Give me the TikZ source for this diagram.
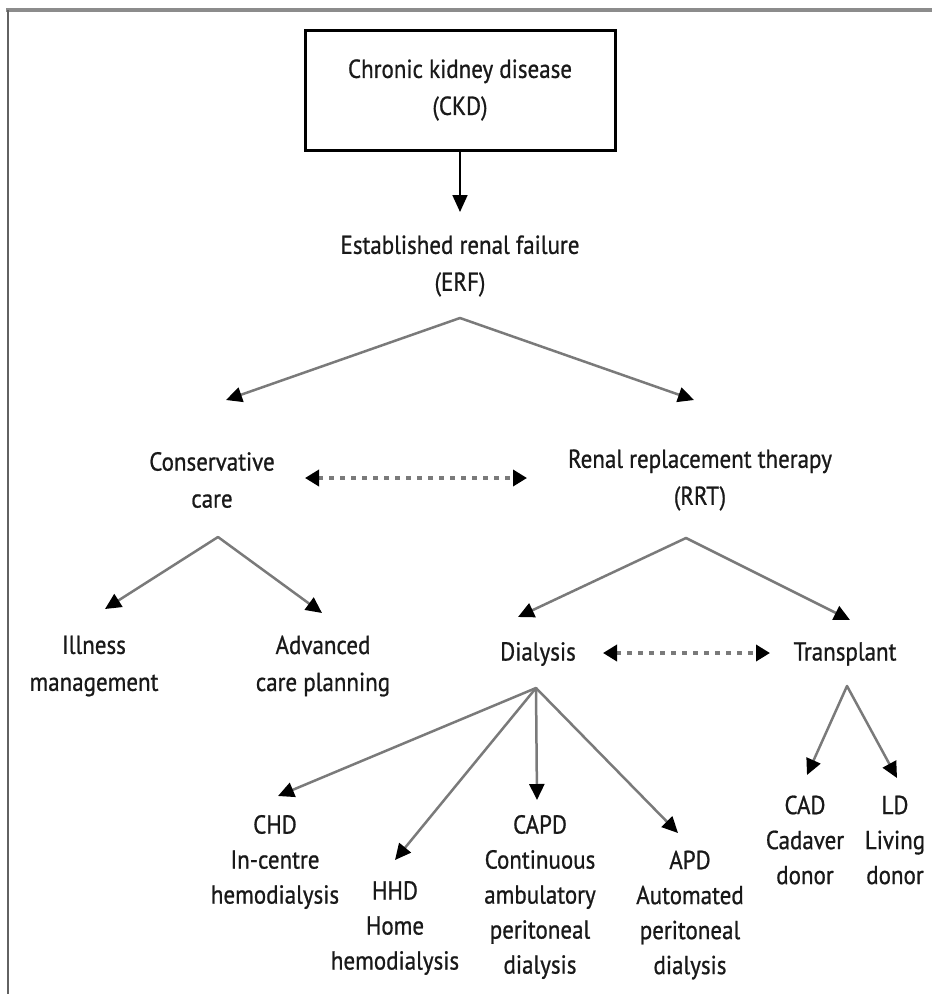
\documentclass[tikz,border=0pt]{standalone}
\usepackage{fontspec}
\setmainfont{PT Sans}[FakeStretch=0.885,FakeBold=0.8]
\usetikzlibrary{arrows.meta}
\definecolor{linegray}{HTML}{7A7A7A}
\definecolor{framegray}{HTML}{8C8C8C}
\begin{document}
\begin{tikzpicture}[x=1pt,y=-1pt,
  lbl/.style={align=center, inner sep=0pt, text=black!90, font=\fontsize{26}{37}\selectfont},
  lblb/.style={align=center, inner sep=0pt, text=black!90, font=\fontsize{26}{35}\selectfont},
  tree/.style={draw=linegray, line width=2.5pt, line cap=round,
    -{Triangle[length=16pt,width=15pt,color=black]}},
  dotarrow/.style={draw=linegray, line width=3.5pt, dash pattern=on 5pt off 6pt,
    {Triangle[length=14pt,width=16pt,color=black]}-{Triangle[length=14pt,width=16pt,color=black]}},
  ]
\useasboundingbox (0,0) rectangle (932,994);
% frame
\draw[framegray, line width=4pt] (6,10) -- (932,10);
\draw[framegray!70!black, line width=2pt] (8,10) -- (8,994);

% nodes
\node[draw, line width=3pt, minimum width=310pt, minimum height=120pt, lbl] (ckd) at (460,90) {Chronic kidney disease\\(CKD)};
\node[lbl] (erf) at (460,266) {Established renal failure\\(ERF)};
\node[lbl] (cons) at (212,480) {Conservative\\care};
\node[lbl] (rrt) at (700,480) {Renal replacement therapy\\(RRT)};
\node[lbl] (ill) at (94,666) {Illness\\management};
\node[lbl] (adv) at (323,666) {Advanced\\care planning};
\node[lbl] (dial) at (538,654) {Dialysis};
\node[lbl] (trans) at (845,654) {Transplant};
\node[lblb] (chd) at (275,862) {CHD\\In-centre\\hemodialysis};
\node[lblb] (hhd) at (395,928) {HHD\\Home\\hemodialysis};
\node[lblb] (capd) at (540,897) {CAPD\\Continuous\\ambulatory\\peritoneal\\dialysis};
\node[lblb] (apd) at (690,915) {APD\\Automated\\peritoneal\\dialysis};
\node[lblb] (cad) at (805,840) {CAD\\Cadaver\\donor};
\node[lblb] (ld) at (895,840) {LD\\Living\\donor};

% connector points
\coordinate (erfin) at (460,212);
\coordinate (erfap) at (460,318);
\coordinate (consin) at (226,400);
\coordinate (rrtin) at (694,400);
\coordinate (consap) at (218,537);
\coordinate (illin) at (105,609);
\coordinate (advin) at (322,613);
\coordinate (rrtap) at (686,538);
\coordinate (dialin) at (518,617);
\coordinate (transin) at (850,620);
\coordinate (dialap) at (536,688);
\coordinate (chdin) at (278,796);
\coordinate (hhdin) at (395,860);
\coordinate (capdin) at (537,800);
\coordinate (apdin) at (678,833);
\coordinate (transap) at (847,686);
\coordinate (cadin) at (807,775);
\coordinate (ldin) at (897,778);
\coordinate (cr1) at (305,478);
\coordinate (cr2) at (527,478);
\coordinate (dt1) at (603,653);
\coordinate (dt2) at (770,653);

% connectors
\draw[black, line width=1.8pt, -{Triangle[length=17pt,width=15pt]}] (ckd.south) -- (erfin);
\draw[tree] (erfap) -- (consin);
\draw[tree] (erfap) -- (rrtin);
\draw[tree] (consap) -- (illin);
\draw[tree] (consap) -- (advin);
\draw[tree] (rrtap) -- (dialin);
\draw[tree] (rrtap) -- (transin);
\draw[tree] (dialap) -- (chdin);
\draw[tree] (dialap) -- (hhdin);
\draw[tree] (dialap) -- (capdin);
\draw[tree] (dialap) -- (apdin);
\draw[tree] (transap) -- (cadin);
\draw[tree] (transap) -- (ldin);
\draw[dotarrow] (cr1) -- (cr2);
\draw[dotarrow] (dt1) -- (dt2);
\end{tikzpicture}
\end{document}
